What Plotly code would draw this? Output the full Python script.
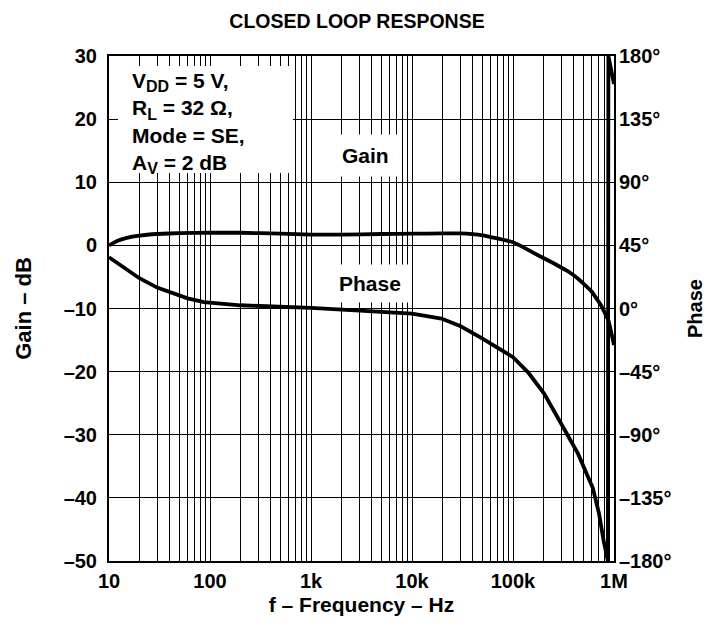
import plotly.graph_objects as go

# ---- data ----
gain_freq = [10, 12, 15, 20, 30, 50, 100, 200, 500, 1e3, 2e3, 5e3, 1e4, 2e4, 3e4,
             5e4, 7e4, 1e5, 1.3e5, 1.6e5, 2e5, 2.5e5, 3e5, 3.5e5, 4.5e5, 6e5, 7.5e5, 8.8e5, 1e6]
gain_db = [0, 0.7, 1.2, 1.55, 1.8, 1.95, 2.0, 2.0, 1.85, 1.7, 1.7, 1.8, 1.85, 1.9, 1.9,
           1.6, 1.1, 0.5, -0.4, -1.2, -2.0, -2.8, -3.5, -4.1, -5.4, -7.3, -9.6, -11.9, -15.8]

phase_freq = [10, 15, 20, 30, 60, 87, 200, 1e3, 1e4, 1.95e4, 3e4, 4.8e4, 7e4, 1e5, 1.41e5,
              2.04e5, 3.16e5, 4.4e5, 6.16e5, 7.1e5, 7.9e5, 8.7e5, 8.8e5, 1e6]
phase_deg = [36.5, 27.9, 21.6, 14.9, 7.2, 4.5, 2.3, 0.5, -3.6, -7.2, -12.5, -20.7, -27.5, -34.7, -45.5,
             -60.8, -85, -103.5, -127.8, -146, -165.6, -180, 180, 160]

gain_ticks = [-50, -40, -30, -20, -10, 0, 10, 20, 30]
gain_ticktext = ["–50", "–40", "–30", "–20", "–10", "0", "10", "20", "30"]
phase_ticks = [-180, -135, -90, -45, 0, 45, 90, 135, 180]
phase_ticktext = ["–180°", "–135°", "–90°", "–45°", "0°", "45°", "90°", "135°", "180°"]
freq_decades = [10, 100, 1e3, 1e4, 1e5, 1e6]
freq_labels = ["10", "100", "1k", "10k", "100k", "1M"]

# gridline positions (1..9 per decade)
grid_vals = []
grid_text = []
for i, d in enumerate(freq_decades[:-1]):
    for m in range(1, 10):
        grid_vals.append(d * m)
        grid_text.append(freq_labels[i] if m == 1 else "")
grid_vals.append(freq_decades[-1])
grid_text.append(freq_labels[-1])

FONT = "Liberation Sans, Arial, Helvetica, sans-serif"
OFF = 7  # page body margin
W, H = 712 - OFF, 626 - OFF
L, T = 108 - OFF, 55 - OFF
PW, PH = 505, 505
R, B = W - L - PW, H - T - PH


def px(xp):
    return (xp - OFF - L) / PW


def py(yp):
    return 1 - (yp - OFF - T) / PH


fig = go.Figure()
fig.add_trace(go.Scatter(x=gain_freq, y=gain_db, mode="lines",
                         line=dict(color="black", width=3.8, shape="spline", smoothing=0.3),
                         showlegend=False, yaxis="y"))
fig.add_trace(go.Scatter(x=phase_freq, y=phase_deg, mode="lines",
                         line=dict(color="black", width=3.8),
                         showlegend=False, yaxis="y2"))

# white conditions box
fig.add_shape(type="rect", xref="paper", yref="paper", x0=px(117), x1=px(292), y0=py(172), y1=py(65),
              fillcolor="white", line=dict(width=0), layer="above")

sub = '<span style="font-size:16px">{}</span>'
fig.add_annotation(xref="paper", yref="paper", x=px(129), y=py(66), xanchor="left", yanchor="top",
                   align="left", showarrow=False,
                   text=("<b>V<sub>" + sub.format("DD") + "</sub> = 5 V,<br>R<sub>" + sub.format("L")
                         + "</sub> = 32 Ω,<br>Mode = SE,<br>A<sub>" + sub.format("V") + "</sub> = 2 dB</b>"),
                   font=dict(family=FONT, size=21, color="black"))
fig.add_annotation(xref="paper", yref="paper", x=px(364), y=py(155),
                   xanchor="center", yanchor="middle", showarrow=False, text="<b>Gain</b>",
                   bgcolor="white", borderpad=9, font=dict(family=FONT, size=21, color="black"))
fig.add_annotation(xref="paper", yref="paper", x=px(369), y=py(282),
                   xanchor="center", yanchor="middle", showarrow=False, text="<b>Phase</b>",
                   bgcolor="white", borderpad=7, font=dict(family=FONT, size=21, color="black"))

fig.update_layout(
    width=W, height=H,
    margin=dict(l=L, r=R, t=T, b=B),
    paper_bgcolor="white", plot_bgcolor="white",
    font=dict(family=FONT, color="black"),
    title=dict(text="<b>CLOSED LOOP RESPONSE</b>", x=(356 - OFF) / W, xref="container", xanchor="center",
               y=1 - (20 - OFF) / H, yref="container", yanchor="middle",
               font=dict(family=FONT, size=19.5, color="black")),
    xaxis=dict(type="log", range=[1, 6], tickvals=grid_vals, ticktext=grid_text,
               showgrid=True, gridcolor="black", gridwidth=1, automargin=False,
               showline=True, linecolor="black", linewidth=2, mirror=True,
               ticks="", ticklabelstandoff=1,
               tickfont=dict(family=FONT, size=20, color="black", weight="bold"),
               title=dict(text="<b>f – Frequency – Hz</b>", standoff=6,
                          font=dict(family=FONT, size=21, color="black")),
               zeroline=False),
    yaxis=dict(range=[-50, 30], tickvals=gain_ticks, ticktext=gain_ticktext,
               showgrid=True, gridcolor="black", gridwidth=1, automargin=False,
               showline=True, linecolor="black", linewidth=2, mirror=True,
               ticks="", ticklabelstandoff=6, zeroline=False,
               tickfont=dict(family=FONT, size=20, color="black", weight="bold"),
               title=dict(text="<b>Gain – dB</b>", standoff=26,
                          font=dict(family=FONT, size=22, color="black"))),
    yaxis2=dict(range=[-180, 180], tickvals=phase_ticks, ticktext=phase_ticktext,
                overlaying="y", side="right", showgrid=False, zeroline=False, automargin=False,
                ticks="", ticklabelstandoff=4,
                tickfont=dict(family=FONT, size=20, color="black", weight="bold"),
                title=dict(text="<b>Phase</b>", standoff=17,
                           font=dict(family=FONT, size=20, color="black"))),
)

fig.write_html("out.html")
